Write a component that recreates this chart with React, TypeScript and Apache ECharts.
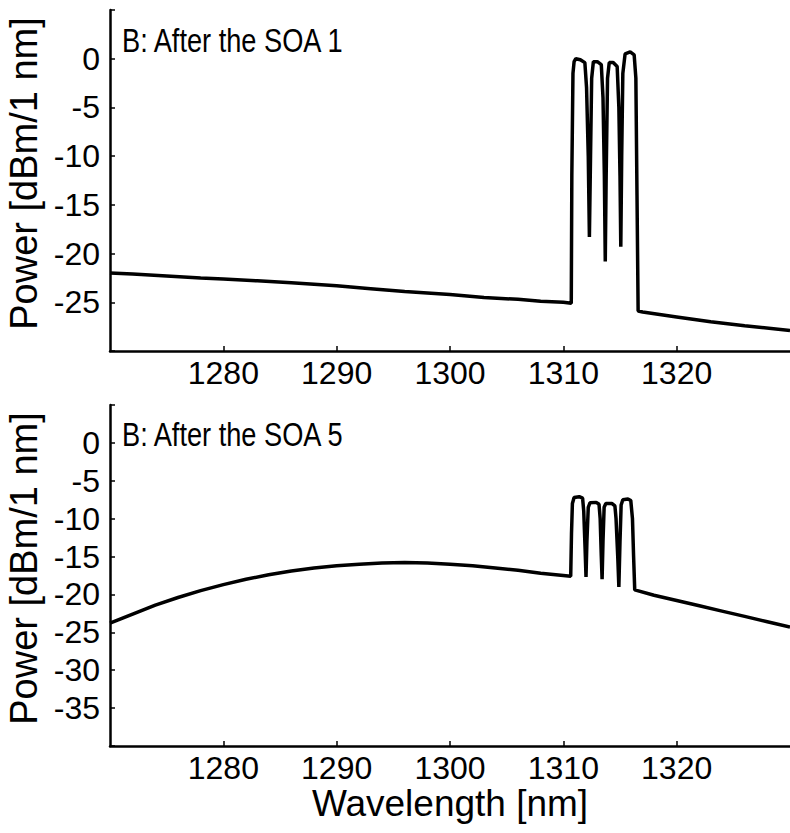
import React, { useEffect, useRef } from "react";
import * as echarts from "echarts";

const xTicks = [1280, 1290, 1300, 1310, 1320];
const yTicksTop = [0, -5, -10, -15, -20, -25];
const yTicksBottom = [0, -5, -10, -15, -20, -25, -30, -35];
const titleTop = "B: After the SOA 1";
const titleBottom = "B: After the SOA 5";

// [wavelength nm, power dBm]
const soa1: [number, number][] = [
  [1270, -22.0], [1272, -22.1], [1275, -22.3], [1278, -22.5], [1280, -22.6],
  [1283, -22.8], [1286, -23.0], [1290, -23.3], [1293, -23.6], [1296, -23.9],
  [1300, -24.2], [1303, -24.5], [1306, -24.7], [1308, -24.9], [1310, -25.0],
  [1310.7, -25.1], [1310.75, -12], [1310.85, -1.5], [1310.95, -0.3], [1311.1, 0],
  [1311.5, -0.1], [1311.9, -0.4], [1312.05, -3], [1312.2, -10], [1312.3, -18.3],
  [1312.4, -10], [1312.5, -2], [1312.65, -0.3], [1313.0, -0.3], [1313.35, -0.6],
  [1313.5, -4], [1313.62, -12], [1313.7, -20.8], [1313.78, -12], [1313.9, -2],
  [1314.05, -0.4], [1314.4, -0.4], [1314.75, -0.8], [1314.9, -5], [1315.0, -12],
  [1315.07, -19.3], [1315.15, -10], [1315.25, -1.5], [1315.45, 0.5], [1315.9, 0.7],
  [1316.25, 0.4], [1316.4, -2], [1316.5, -14], [1316.6, -25.9], [1317, -26.0],
  [1320, -26.5], [1323, -27.0], [1326, -27.4], [1330, -27.9],
];

const soa5: [number, number][] = [
  [1270, -23.8], [1272, -22.6], [1274, -21.4], [1276, -20.4], [1278, -19.5],
  [1280, -18.7], [1282, -18.0], [1284, -17.4], [1286, -16.9], [1288, -16.5],
  [1290, -16.2], [1292, -16.0], [1294, -15.85], [1296, -15.8], [1298, -15.85],
  [1300, -16.0], [1302, -16.2], [1304, -16.5], [1306, -16.8], [1308, -17.2],
  [1310, -17.5], [1310.65, -17.6], [1310.72, -12], [1310.8, -8], [1310.95, -7.2],
  [1311.4, -7.1], [1311.7, -7.3], [1311.8, -9], [1311.92, -14], [1312.0, -17.7],
  [1312.08, -13], [1312.2, -8.5], [1312.35, -7.9], [1312.9, -7.85], [1313.15, -8.1],
  [1313.25, -10], [1313.35, -15], [1313.42, -18.0], [1313.5, -13], [1313.6, -8.5],
  [1313.75, -8.0], [1314.3, -8.0], [1314.55, -8.3], [1314.65, -10], [1314.8, -15],
  [1314.9, -19.0], [1315.0, -13], [1315.1, -8.2], [1315.25, -7.5], [1315.7, -7.4],
  [1315.95, -7.6], [1316.1, -10], [1316.2, -15], [1316.3, -19.4], [1318, -20.1],
  [1320, -20.8], [1322, -21.5], [1324, -22.2], [1326, -22.9], [1328, -23.6],
  [1330, -24.3],
];

const FONT = "'Liberation Sans', Arial, Helvetica, sans-serif";

export default function App() {
  const ref = useRef<HTMLDivElement>(null);
  useEffect(() => {
    if (!ref.current) return;
    const chart = echarts.init(ref.current, null, { renderer: "svg" });
    const axisLine = { show: true, onZero: false, lineStyle: { color: "#000", width: 2.5 } };
    const mkX = (gi: number) => ({
      type: "value",
      gridIndex: gi,
      min: 1270,
      max: 1330,
      interval: 10,
      axisLine,
      axisTick: { show: true, inside: true, length: 5, customValues: xTicks, lineStyle: { color: "#000", width: 1.5 } },
      axisLabel: {
        customValues: xTicks,
        formatter: (v: number) => String(v),
        color: "#000",
        fontSize: 32,
        fontFamily: FONT,
        margin: 6,
      },
      splitLine: { show: false },
    });
    const mkY = (gi: number, min: number, labels: number[]) => ({
      type: "value",
      gridIndex: gi,
      min,
      max: 5,
      interval: 5,
      name: "Power [dBm/1 nm]",
      nameLocation: "middle",
      nameRotate: 90,
      nameGap: 62,
      nameTextStyle: { color: "#000", fontSize: 38, fontFamily: FONT, padding: [0, 0, 0, 14] },
      axisLine,
      axisTick: { show: true, inside: true, length: 5, lineStyle: { color: "#000", width: 1.5 } },
      axisLabel: {
        customValues: labels,
        formatter: (v: number) => String(v),
        color: "#000",
        fontSize: 32,
        fontFamily: FONT,
        margin: 10,
      },
      splitLine: { show: false },
    });
    const lineSeries = (gi: number, data: [number, number][]) => ({
      type: "line",
      xAxisIndex: gi,
      yAxisIndex: gi,
      data,
      showSymbol: false,
      symbol: "none",
      lineStyle: { color: "#000", width: 3.5 },
      silent: true,
    });
    chart.setOption({
      animation: false,
      backgroundColor: "#fff",
      grid: [
        { left: 110, top: 10, width: 680, height: 341, outerBoundsMode: "none", containLabel: false },
        { left: 110, top: 405, width: 680, height: 341, outerBoundsMode: "none", containLabel: false },
      ],
      xAxis: [mkX(0), mkX(1)],
      yAxis: [mkY(0, -30, yTicksTop), mkY(1, -40, yTicksBottom)],
      series: [lineSeries(0, soa1), lineSeries(1, soa5)],
      graphic: [
        { type: "text", x: 122, y: 40, style: { text: titleTop, fill: "#000", fontSize: 34, fontFamily: FONT, textVerticalAlign: "middle" }, scaleX: 0.8 },
        { type: "text", x: 122, y: 434, style: { text: titleBottom, fill: "#000", fontSize: 34, fontFamily: FONT, textVerticalAlign: "middle" }, scaleX: 0.8 },
        { type: "text", x: 450, y: 803, style: { text: "Wavelength [nm]", fill: "#000", fontSize: 37, fontFamily: FONT, textAlign: "center", textVerticalAlign: "middle" } },
      ],
    });
    return () => chart.dispose();
  }, []);
  return <div ref={ref} style={{ width: 790, height: 833, position: "absolute", left: 0, top: 0 }} />;
}
